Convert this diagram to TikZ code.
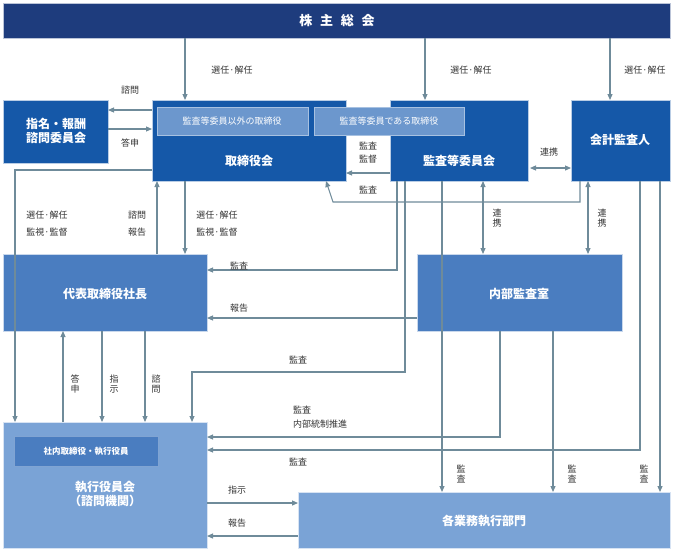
\documentclass[tikz,border=0pt]{standalone}
\usepackage{fontspec}
\setmainfont{Noto Sans CJK JP}
\usetikzlibrary{arrows.meta}
\definecolor{navy}{HTML}{1E3C7D}
\definecolor{dblue}{HTML}{1558A8}
\definecolor{mblue}{HTML}{4A7DC0}
\definecolor{lblue}{HTML}{7AA3D6}
\definecolor{sblue}{HTML}{6C97CD}
\definecolor{arr}{HTML}{6F8B9A}
\definecolor{txt}{HTML}{333333}
\tikzset{
 box/.style={anchor=north west,inner sep=0pt,draw=white!70!#1,line width=0.8pt,fill=#1},
 ttl/.style={text=white,font=\bfseries\fontsize{12}{14}\selectfont},
 lbl/.style={text=txt,font=\fontsize{9}{11}\selectfont,inner sep=1pt,align=center},
 vl/.style={lbl,font=\fontsize{9}{10.5}\selectfont},
 ln/.style={draw=arr,line width=1.1pt},
 ar/.style={ln,-{Triangle[length=6pt,width=5pt]}},
 dar/.style={ln,{Triangle[length=6pt,width=5pt]}-{Triangle[length=6pt,width=5pt]}},
 dsh/.style={draw=white!75!mblue,line width=1pt,dashed,dash pattern=on 3pt off 2pt}
}
\begin{document}
\begin{tikzpicture}[x=1pt,y=-1pt]
\useasboundingbox (0,0) rectangle (674,550);
% boxes
\node[box=navy,minimum width=667,minimum height=35] (kabu) at (3,3) {};
\node[ttl,font=\bfseries\fontsize{13}{15}\selectfont] at (337,21) {株\hspace{0.6em}主\hspace{0.6em}総\hspace{0.6em}会};
\node[box=dblue,minimum width=105,minimum height=63] (shimei) at (3,100) {};
\node[ttl,align=center] at (56,131) {指名・報酬\\諮問委員会};
\node[box=dblue,minimum width=194,minimum height=81] (tori) at (152,100) {};
\node[ttl] at (249,161) {取締役会};
\node[box=dblue,minimum width=138,minimum height=81] (kansa) at (390,100) {};
\node[ttl] at (459,161) {監査等委員会};
\node[box=dblue,minimum width=99,minimum height=81] (kaikei) at (571,100) {};
\node[ttl] at (620,140) {会計監査人};
\node[box=sblue,minimum width=151,minimum height=28,draw=white!40!sblue] (sub1) at (157,107) {};
\node[text=white,font=\fontsize{9}{11}\selectfont] at (232,121) {監査等委員以外の取締役};
\node[box=sblue,minimum width=150,minimum height=28,draw=white!40!sblue] (sub2) at (314,107) {};
\node[text=white,font=\fontsize{9}{11}\selectfont] at (389,121) {監査等委員である取締役};
\node[box=mblue,minimum width=204,minimum height=77] (dai) at (3,254) {};
\node[box=mblue,minimum width=205,minimum height=77] (nai) at (417,254) {};
\node[box=lblue,minimum width=204,minimum height=126] (shikko) at (3,422) {};
\node[box=mblue,minimum width=144,minimum height=30,draw=white!30!mblue] (shanai) at (14,436) {};
\node[text=white,font=\bfseries\fontsize{8.5}{10}\selectfont] at (86,451) {社内取締役・執行役員};
\node[box=lblue,minimum width=372,minimum height=56] (kakugyo) at (298,492) {};
% dashed pass-through
\draw[dsh] (15,254) -- (15,331);
\draw[dsh] (442,254) -- (442,331);
\node[ttl] at (105,294) {代表取締役社長};
\node[ttl] at (519,294) {内部監査室};
\node[ttl,align=center] at (105,494) {執行役員会\\（諮問機関）};
\node[ttl] at (484,521) {各業務執行部門};
% shareholders
\draw[ar] (185,38) -- (185,100); \node[lbl] at (232,70) {選任·解任};
\draw[ar] (425,38) -- (425,100); \node[lbl] at (471,70) {選任·解任};
\draw[ar] (610,38) -- (610,100); \node[lbl] at (645,70) {選任·解任};
% nomination
\draw[ar] (152,110) -- (108,110); \node[lbl] at (130,90) {諮問};
\draw[ar] (108,129) -- (152,129); \node[lbl] at (130,143) {答申};
% audit committee -> board
\draw[ar] (390,173) -- (346,173); \node[lbl,align=center,font=\fontsize{9}{13}\selectfont] at (368,153) {監査\\監督};
\draw[ar] (580,181) -- (580,202) -- (333,202) -- (326,181); \node[lbl] at (368,190) {監査};
\draw[dar] (530,168) -- (571,168); \node[lbl] at (549,152) {連携};
% board <-> president
\draw[ar] (152,170) -- (15,170) -- (15,422);
\node[lbl,align=left,font=\fontsize{9}{17}\selectfont] at (47,224) {選任·解任\\監視·監督};
\draw[ar] (157,254) -- (157,181);
\node[lbl,font=\fontsize{9}{17}\selectfont] at (137,224) {諮問\\報告};
\draw[ar] (185,181) -- (185,254);
\node[lbl,align=left,font=\fontsize{9}{17}\selectfont] at (217,224) {選任·解任\\監視·監督};
\draw[ar] (397,181) -- (397,270) -- (207,270); \node[lbl] at (239,266) {監査};
\draw[ar] (417,318) -- (207,318); \node[lbl] at (239,308) {報告};
\draw[dar] (483,181) -- (483,254); \node[vl] at (497,218) {連\\携};
\draw[dar] (588,181) -- (588,254); \node[vl] at (602,218) {連\\携};
% president <-> executive
\draw[ar] (63,422) -- (63,331); \node[vl] at (75,384) {答\\申};
\draw[ar] (102,331) -- (102,422); \node[vl] at (114,384) {指\\示};
\draw[ar] (145,331) -- (145,422); \node[vl] at (156,384) {諮\\問};
% audits to executive
\draw[ar] (405,181) -- (405,372) -- (192,372) -- (192,422); \node[lbl] at (298,360) {監査};
\draw[ar] (500,331) -- (500,437) -- (207,437);
\node[lbl,align=left,font=\fontsize{9}{14}\selectfont] at (320,417) {監査\\内部統制推進};
\draw[ar] (640,181) -- (640,450) -- (207,450); \node[lbl] at (298,462) {監査};
% audits to departments
\draw[ar] (442,181) -- (442,492); \node[vl] at (461,474) {監\\査};
\draw[ar] (553,331) -- (553,492); \node[vl] at (572,474) {監\\査};
\draw[ar] (660,181) -- (660,492); \node[vl] at (644,474) {監\\査};
% executive <-> departments
\draw[ar] (207,503) -- (298,503); \node[lbl] at (237,490) {指示};
\draw[ar] (298,536) -- (207,536); \node[lbl] at (237,523) {報告};
\end{tikzpicture}
\end{document}
